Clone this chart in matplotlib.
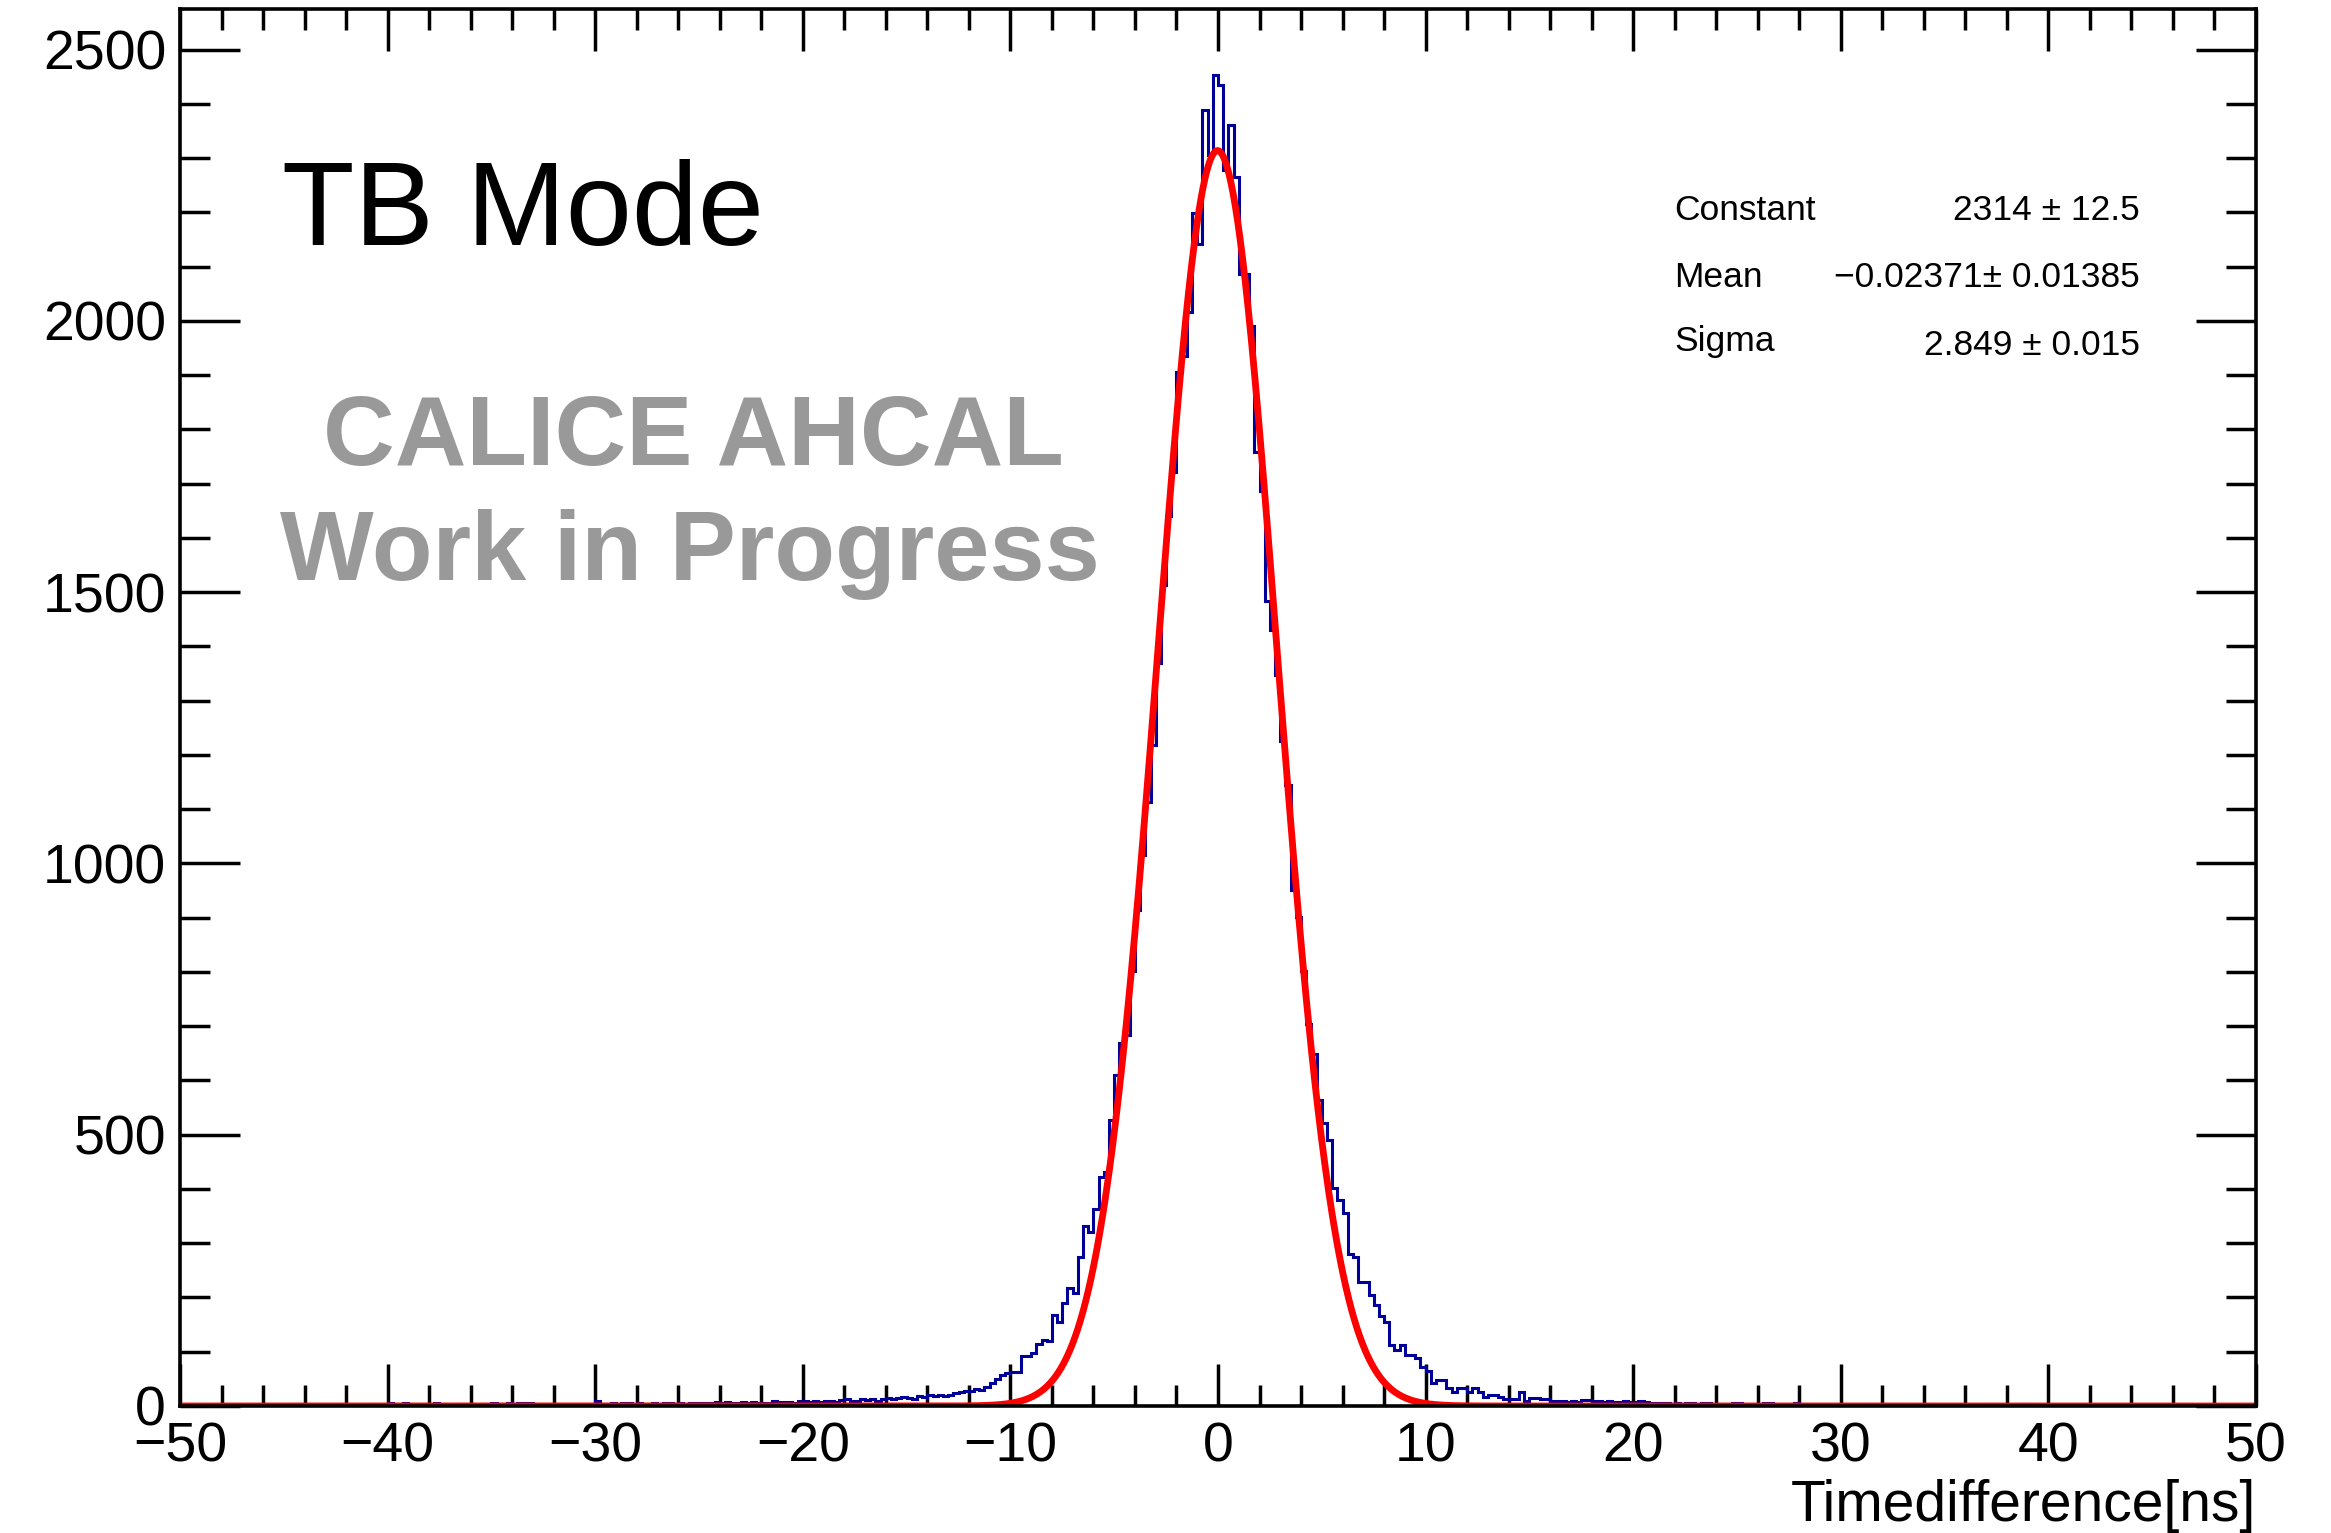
import numpy as np
import matplotlib
matplotlib.use("Agg")
import matplotlib.pyplot as plt
from matplotlib.ticker import MultipleLocator

# ---- data -------------------------------------------------------------
x_min, x_max, bin_width = -50.0, 50.0, 0.25

# counts per 0.25 ns bin, grouped per 1 ns (4 bins per row), from -50 ns to +50 ns
counts_neg = [
    1, 0, 1, 1,      # -50
    0, 1, 1, 0,      # -49
    2, 3, 1, 1,      # -48
    1, 0, 1, 2,      # -47
    1, 1, 2, 0,      # -46
    3, 2, 3, 3,      # -45
    1, 4, 1, 1,      # -44
    1, 2, 3, 3,      # -43
    1, 1, 2, 1,      # -42
    4, 3, 1, 1,      # -41
    5, 4, 4, 5,      # -40
    3, 2, 4, 3,      # -39
    2, 5, 4, 4,      # -38
    4, 3, 3, 2,      # -37
    3, 2, 4, 4,      # -36
    5, 4, 4, 5,      # -35
    4, 5, 5, 6,      # -34
    3, 2, 3, 2,      # -33
    3, 2, 4, 3,      # -32
    3, 3, 2, 4,      # -31
    9, 4, 3, 5,      # -30
    3, 5, 6, 4,      # -29
    5, 3, 4, 5,      # -28
    4, 6, 5, 4,      # -27
    6, 4, 5, 5,      # -26
    5, 6, 5, 7,      # -25
    6, 7, 6, 5,      # -24
    7, 6, 8, 5,      # -23
    6, 5, 9, 7,      # -22
    7, 8, 6, 9,      # -21
    10, 8, 9, 8,     # -20
    9, 10, 8, 11,    # -19
    12, 10, 9, 12,   # -18
    11, 13, 10, 12,  # -17
    15, 12, 14, 16,  # -16
    14, 13, 18, 17,  # -15
    21, 18, 20, 19,  # -14
    20, 24, 26, 28,  # -13
    28, 32, 30, 35,  # -12
    42, 50, 58, 60,  # -11
    62, 62, 92, 92,  # -10
    97, 114, 122, 119,     # -9
    168, 155, 189, 217,    # -8
    208, 275, 331, 321,    # -7
    364, 423, 432, 527,    # -6
    610, 669, 684, 801,    # -5
    914, 1016, 1114, 1219,  # -4
    1369, 1514, 1640, 1721,  # -3
    1905, 1936, 2017, 2199,  # -2
    2141, 2389, 2306, 2454,  # -1
]
counts_pos = [
    2434, 2279, 2362, 2265,  # 0
    2087, 2087, 1991, 1759,  # 1
    1686, 1483, 1431, 1348,  # 2
    1225, 1145, 951, 902,    # 3
    801, 705, 648, 564,      # 4
    521, 490, 401, 380,      # 5
    355, 281, 275, 229,      # 6
    229, 205, 186, 165,      # 7
    155, 112, 103, 112,      # 8
    94, 94, 88, 72,          # 9
    65, 42, 48, 48,          # 10
    33, 26, 33, 33,          # 11
    26, 33, 26, 17,          # 12
    20, 20, 17, 12,          # 13
    12, 12, 26, 10,          # 14
    14, 14, 12, 13,          # 15
    10, 9, 10, 8,            # 16
    9, 8, 11, 11,            # 17
    10, 9, 8, 9,             # 18
    7, 8, 9, 7,              # 19
    8, 9, 7, 6,              # 20
    5, 6, 5, 4,              # 21
    5, 4, 6, 5,              # 22
    4, 6, 5, 4,              # 23
    3, 4, 3, 5,              # 24
    5, 4, 3, 3,              # 25
    4, 5, 6, 4,              # 26
    3, 4, 3, 5,              # 27
    4, 3, 2, 3,              # 28
    3, 4, 2, 3,              # 29
    3, 2, 3, 2,              # 30
    2, 3, 3, 2,              # 31
    3, 2, 2, 3,              # 32
    1, 2, 2, 1,              # 33
    2, 3, 2, 1,              # 34
    2, 2, 1, 2,              # 35
    1, 2, 1, 1,              # 36
    2, 3, 1, 0,              # 37
    1, 2, 2, 3,              # 38
    1, 1, 2, 0,              # 39
    1, 1, 0, 1,              # 40
    2, 2, 1, 0,              # 41
    1, 0, 1, 2,              # 42
    0, 1, 0, 1,              # 43
    1, 2, 1, 0,              # 44
    1, 0, 0, 1,              # 45
    0, 1, 0, 0,              # 46
    1, 0, 1, 0,              # 47
    0, 1, 0, 0,              # 48
    1, 0, 0, 1,              # 49
]

# Gaussian fit parameters (from the stat box)
fit_constant = 2314.0
fit_mean = -0.02371
fit_sigma = 2.849

stat_labels = ["Constant", "Mean", "Sigma"]
stat_values = ["2314 \u00b1 12.5", "\u22120.02371\u00b1 0.01385", "2.849 \u00b1 0.015"]

x_ticks = [-50, -40, -30, -20, -10, 0, 10, 20, 30, 40, 50]
y_ticks = [0, 500, 1000, 1500, 2000, 2500]
y_max = 2575

# ---- figure -------------------------------------------------------------
W, H, DPI = 2331, 1533, 100
plt.rcParams['font.family'] = ['Liberation Sans', 'DejaVu Sans']
fig = plt.figure(figsize=(W / DPI, H / DPI), dpi=DPI)

L, R, B, T = 180, 2256, 1406, 9
ax = fig.add_axes([L / W, 1 - B / H, (R - L) / W, (B - T) / H])

counts = np.array(counts_neg + counts_pos, dtype=float)
edges = np.arange(len(counts) + 1) * bin_width + x_min

ax.stairs(counts, edges, color='#000099', lw=2.2, baseline=0, zorder=2)

xf = np.linspace(x_min, x_max, 3000)
yf = fit_constant * np.exp(-0.5 * ((xf - fit_mean) / fit_sigma) ** 2)
ax.plot(xf, yf, color='#ff0000', lw=4.9, zorder=3, solid_capstyle='butt')

ax.set_xlim(x_min, x_max)
ax.set_ylim(0, y_max)
ax.set_xticks(x_ticks)
ax.set_yticks(y_ticks)
ax.xaxis.set_minor_locator(MultipleLocator(2))
ax.yaxis.set_minor_locator(MultipleLocator(100))

for sp in ax.spines.values():
    sp.set_linewidth(2.6)
    sp.set_zorder(5)

ax.tick_params(axis='both', which='both', direction='in', top=True, right=True,
               width=2.5, colors='black', labelsize=40)
ax.tick_params(axis='x', which='major', length=30, pad=11)
ax.tick_params(axis='x', which='minor', length=15)
ax.tick_params(axis='y', which='major', length=43, pad=10)
ax.tick_params(axis='y', which='minor', length=21.5)

# ---- texts ---------------------------------------------------------------
def fx(px):
    return px / W

def fy(py):
    return 1 - py / H

# x-axis title, right-aligned with the frame
fig.text(fx(R), fy(1521), "Timedifference[ns]", fontsize=41, ha='right', va='baseline')

fig.text(fx(282), fy(245), "TB Mode", fontsize=85.5, color='black', ha='left', va='baseline')
fig.text(fx(693), fy(465), "CALICE AHCAL", fontsize=71.5, fontweight='bold',
         color='#999999', ha='center', va='baseline')
fig.text(fx(690), fy(580), "Work in Progress", fontsize=71.5, fontweight='bold',
         color='#999999', ha='center', va='baseline')

stat_label_y = [220, 287, 351]
stat_value_y = [220, 287, 355]
for lab, val, yl, yv in zip(stat_labels, stat_values, stat_label_y, stat_value_y):
    fig.text(fx(1674), fy(yl), lab, fontsize=25.5, ha='left', va='baseline')
    fig.text(fx(2140), fy(yv), val, fontsize=25.5, ha='right', va='baseline')

fig.savefig("out.png", dpi=DPI, facecolor='white')
